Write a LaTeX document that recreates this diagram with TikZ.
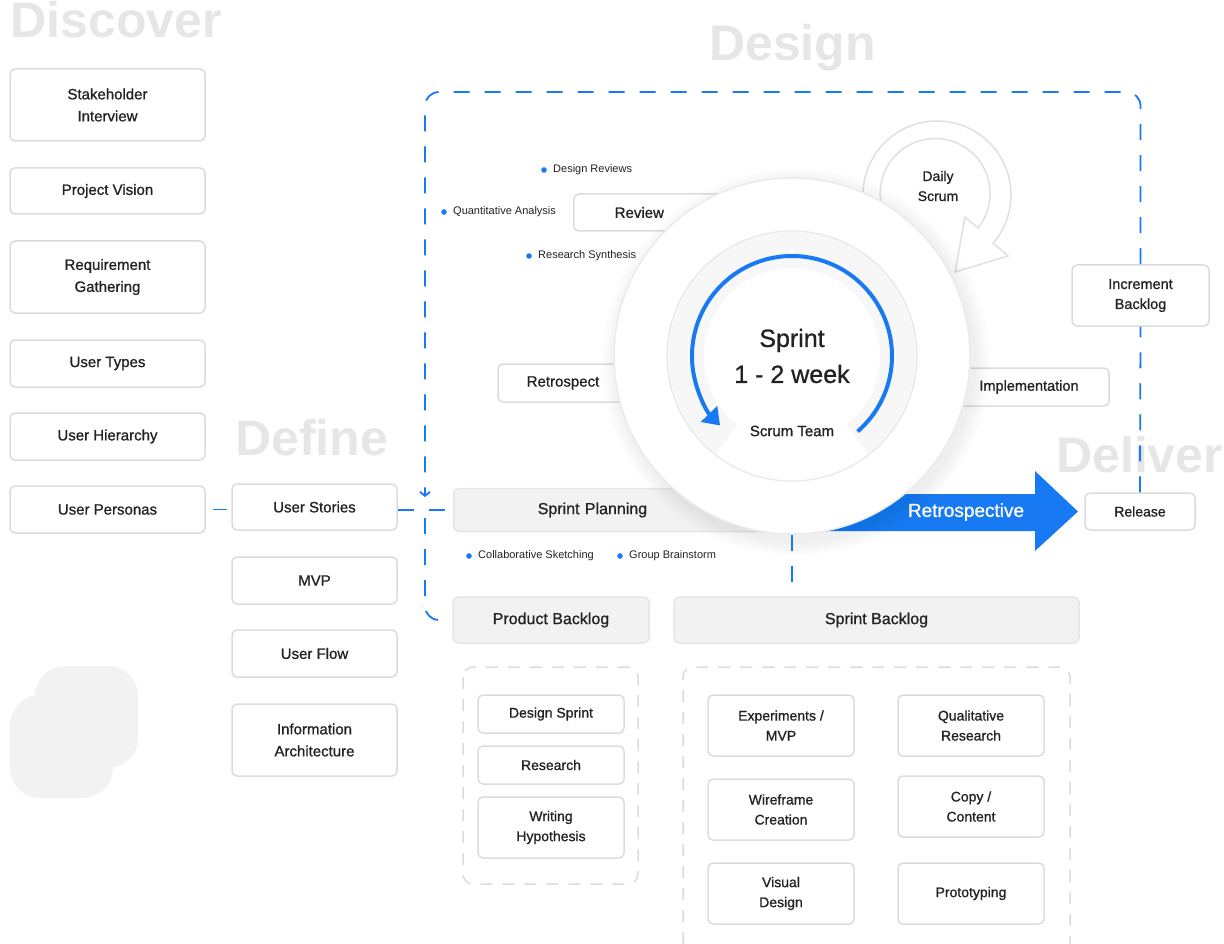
\documentclass[tikz,border=0pt]{standalone}
\usepackage{fontspec}
\setmainfont{Liberation Sans}
\newfontfamily\medfont{Liberation Sans}[FakeBold=0.9]
\usepackage{tikz}
\usetikzlibrary{arrows.meta,calc}
\definecolor{accentblue}{RGB}{24,122,242}
\definecolor{inkgrey}{RGB}{34,34,34}
\definecolor{headgrey}{RGB}{230,230,230}
\definecolor{edgegrey}{RGB}{220,220,220}
\definecolor{panelgrey}{RGB}{242,242,242}
\newcommand{\fsz}[2]{\fontsize{#1}{#2}\selectfont}

\begin{document}
\begin{tikzpicture}[x=1pt,y=-1pt,
  head/.style={anchor=base west,inner sep=0,text=headgrey,font=\fsz{50}{50}\bfseries},
  card/.style={draw=edgegrey,fill=white,line width=1.5pt,rounded corners=5pt,
    text=inkgrey,align=center,inner sep=0,font=\medfont\fsz{15}{22}},
  subcard/.style={card,font=\medfont\fsz{14}{20},minimum width=146pt},
  greycard/.style={card,fill=panelgrey,draw=black!10,font=\medfont\fsz{16}{20}},
  note/.style={anchor=west,inner sep=0,text=inkgrey,font=\fsz{11}{13}},
  flow/.style={accentblue,line width=1.8pt,dash pattern=on 16pt off 15pt},
  panel/.style={black!14,line width=1.5pt,dash pattern=on 12pt off 10pt,rounded corners=10pt}]
  \useasboundingbox (0,0) rectangle (1224,944);
  % phase titles
  \node[head] (discover) at (10.5,38) {Discover};
  \node[head] (design) at (709,61) {Design};
  \node[head] (define) at (235,455) {Define};
  \node[head] (deliver) at (1056,472) {Deliver};
  \fill[panelgrey,rounded corners=30pt] (10,695) rectangle (113,798);
  \fill[panelgrey,rounded corners=30pt] (35,666) rectangle (138,768);
  % discover and define columns
  \foreach \n/\y/\h/\txt in {stake/105/72/{Stakeholder\\Interview},vision/191/46/{Project Vision},
      reqs/277/72/{Requirement\\Gathering},types/363.5/47/{User Types},
      hier/436.5/47/{User Hierarchy},personas/509.5/47/{User Personas}}
    \node[card,minimum width=195pt,minimum height=\h pt] (\n) at (107.5,\y) {\txt};
  \foreach \n/\y/\h/\txt in {stories/507/46/{User Stories},mvp/580.5/47/{MVP},
      flow/653.5/47/{User Flow},infoarch/740/72/{Information\\Architecture}}
    \node[card,minimum width=165pt,minimum height=\h pt] (\n) at (314.5,\y) {\txt};
  % sprint loop
  \node[card,anchor=west,text width=100pt,align=left,inner xsep=41pt,minimum height=37pt] (review) at (573,212.5) {Review};
  \node[card,minimum width=130pt,minimum height=38pt] (retro) at (563,383) {Retrospect};
  \node[card,minimum width=160pt,minimum height=38pt,font=\medfont\fsz{14.5}{20}] (impl) at (1029,387) {Implementation};
  \node[greycard,anchor=west,text width=179pt,align=left,inner xsep=84pt,minimum height=43pt] (planning) at (453,510) {Sprint Planning};
  \node[greycard,minimum width=196pt,minimum height=46pt] (pbacklog) at (551,620) {Product Backlog};
  \node[greycard,minimum width=405pt,minimum height=46pt] (sbacklog) at (876.5,620) {Sprint Backlog};
  \node[card,minimum width=110pt,minimum height=37pt,font=\medfont\fsz{14}{20}] (release) at (1140,511.5) {Release};
  \node[card,minimum width=137pt,minimum height=61pt,font=\medfont\fsz{14.5}{20}] (incr) at (1140.5,295.5) {Increment\\Backlog};
  \foreach \x/\y/\txt [count=\i] in {553/170/Design Reviews,453/212/Quantitative Analysis,
      538/256/Research Synthesis,478/556/Collaborative Sketching,629/556/Group Brainstorm}{
    \fill[accentblue] (\x-9,\y) circle (2.8);
    \node[note] (note\i) at (\x,\y) {\txt};}
  \fill[accentblue] (790,494) -- (1035,494) -- (1035,471) -- (1078,511.5) -- (1035,551)
    -- (1035,531) -- (790,531) -- cycle;
  \node[font=\medfont\fsz{19}{20},text=white] (retrolbl) at (966,512) {Retrospective};
  \filldraw[fill=white,draw=black!12,line width=1.5pt] (937,195) ++(160:74) arc (160:400.6:74)
    -- (1008,256) -- (955,272) -- (965,217) -- (978,228) arc (38.8:-200:55) -- cycle;
  \node[font=\medfont\fsz{14}{20},text=inkgrey,align=center] (daily) at (938,186) {Daily\\Scrum};
  \foreach \r in {2,4,...,16}
    \fill[black,opacity=0.008] (796,362) circle (178+\r);
  \node[circle,draw=black!8,line width=1.5pt,fill=white,minimum size=356pt,inner sep=0] (sprint) at (792,356) {};
  \fill[black!3] (sprint.center) circle (125);
  \fill[white] (sprint.center) -- ++(52:125) arc (52:128:125) -- cycle;
  \fill[white] (sprint.center) circle (88);
  \draw[black!9,line width=1.2pt] (sprint.center) circle (125);
  \draw[accentblue,line width=4pt,-{Triangle[length=16pt,width=22pt]}]
    ($(sprint.center)+(49:100)$) arc (49:-224:100);
  \node[font=\medfont\fsz{25}{36},text=inkgrey,align=center] (sprintlbl) at (792,356) {Sprint\\1 - 2 week};
  \node[font=\medfont\fsz{15}{20},text=inkgrey] (team) at (792,431) {Scrum Team};
  % dashed links
  \draw[accentblue,line width=1.8pt,shorten <=7pt,shorten >=4pt] (personas.east) -- (personas.east -| stories.west);
  \draw[flow] (planning.west -| stories.east) -- (planning.west);
  \draw[flow,rounded corners=14pt,-{Straight Barb[length=4pt,width=10pt]}] (incr.north) |- (425,92) -- (425,497);
  \draw[flow,rounded corners=14pt] (425,518) |- (pbacklog.west);
  \draw[flow] (release.north) -- (incr.south);
  \draw[flow] (sprint.south) -- (sprint.south |- sbacklog.north);
  % backlog items
  \draw[panel] (463,667) rectangle (638,884);
  \draw[panel] (683,944) -- (683,667) -- (1070,667) -- (1070,944);
  \foreach \n/\x/\y/\h/\txt in {dsprint/551/714/38/{Design Sprint},research/551/765/38/{Research},
      hypo/551/827.5/61/{Writing\\Hypothesis},exper/781/725.5/61/{Experiments /\\MVP},
      quali/971/725.5/61/{Qualitative\\Research},wire/781/809.5/61/{Wireframe\\Creation},
      copy/971/806.5/61/{Copy /\\Content},visual/781/893.5/61/{Visual\\Design},
      proto/971/893.5/61/{Prototyping}}
    \node[subcard,minimum height=\h pt] (\n) at (\x,\y) {\txt};
\end{tikzpicture}
\end{document}
